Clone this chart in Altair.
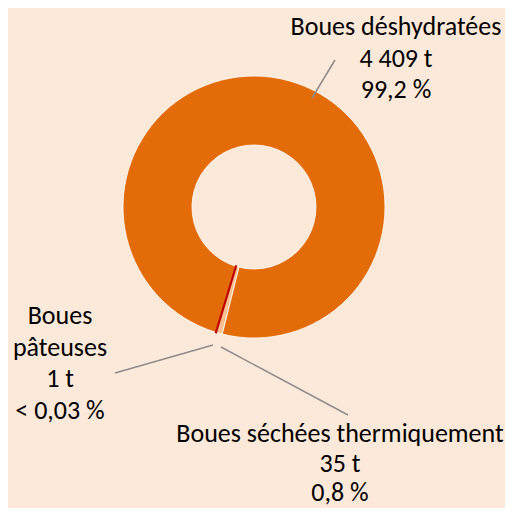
import math
import altair as alt
import pandas as pd

# ---- data ----
categories = ["Boues séchées thermiquement", "Boues pâteuses", "Boues déshydratées"]
label_names = ["Boues séchées thermiquement", "Boues\npâteuses", "Boues déshydratées"]
tonnes = [35, 1, 4409]
tonnes_labels = ["35 t", "1 t", "4 409 t"]
pct_labels = ["0,8 %", "< 0,03 %", "99,2 %"]
colors = ["#FAC090", "#C00000", "#E36C09"]
order = [0, 1, 2]

df = pd.DataFrame({
    "cat": categories,
    "t": tonnes,
    "ord": order,
    "label": [f"{n}\n{t}\n{p}" for n, t, p in zip(label_names, tonnes_labels, pct_labels)],
})
total = sum(tonnes)

BG = "#FDE9D9"
W, H = 497, 500
CX, CY = 246, 199
R_OUT, R_IN = 131, 62
START = math.radians(194)
FONT = "Calibri, Carlito, Lato"
FS = 26

theta_scale = alt.Scale(domain=[0, total], range=[START, START + 2 * math.pi])
color_scale = alt.Scale(domain=categories, range=colors)

base = alt.Chart(df).transform_stack(
    stack="t", groupby=[], as_=["t0", "t1"], sort=[alt.SortField("ord")]
)

arcs = base.mark_arc(radius=R_OUT, radius2=R_IN, stroke="white", strokeWidth=0.8).encode(
    theta=alt.Theta("t0:Q", scale=theta_scale),
    theta2="t1:Q",
    color=alt.Color("cat:N", scale=color_scale, legend=None),
    x=alt.value(CX), y=alt.value(CY),
)

red = base.transform_filter(alt.datum.cat == "Boues pâteuses").mark_arc(
    radius=R_OUT, radius2=R_IN, stroke="#C00000", strokeWidth=2
).encode(
    theta=alt.Theta("t0:Q", scale=theta_scale),
    theta2="t1:Q",
    color=alt.Color("cat:N", scale=color_scale, legend=None),
    x=alt.value(CX), y=alt.value(CY),
)

# label layout (chart coords): category -> (x center, y top, line height)
layout = {
    "Boues déshydratées": (388, 6, 31.5),
    "Boues pâteuses": (52, 295, 31.5),
    "Boues séchées thermiquement": (332, 413, 29.5),
}
leaders = {
    "Boues déshydratées": (327, 52, 304, 90),
    "Boues pâteuses": (107, 365, 205, 337),
    "Boues séchées thermiquement": (213, 339, 340, 407),
}

layers = [arcs, red]
for cat in categories:
    x1, y1, x2, y2 = leaders[cat]
    layers.append(
        alt.Chart(df).transform_filter(alt.datum.cat == cat).mark_rule(
            color="#8C8C8C", strokeWidth=1.5
        ).encode(x=alt.value(x1), y=alt.value(y1), x2=alt.value(x2), y2=alt.value(y2))
    )
for cat in categories:
    lx, ly, lh = layout[cat]
    layers.append(
        alt.Chart(df).transform_filter(alt.datum.cat == cat).mark_text(
            font=FONT, fontSize=FS, color="#000000", align="center",
            baseline="top", lineBreak="\n", lineHeight=lh
        ).encode(text="label:N", x=alt.value(lx), y=alt.value(ly))
    )

chart = alt.layer(*layers).properties(
    width=W, height=H,
    autosize=alt.AutoSizeParams(type="none"),
    padding=0,
    background=BG,
).configure_view(stroke=None)

chart.save("out.html", embed_options={"renderer": "svg", "actions": False})
